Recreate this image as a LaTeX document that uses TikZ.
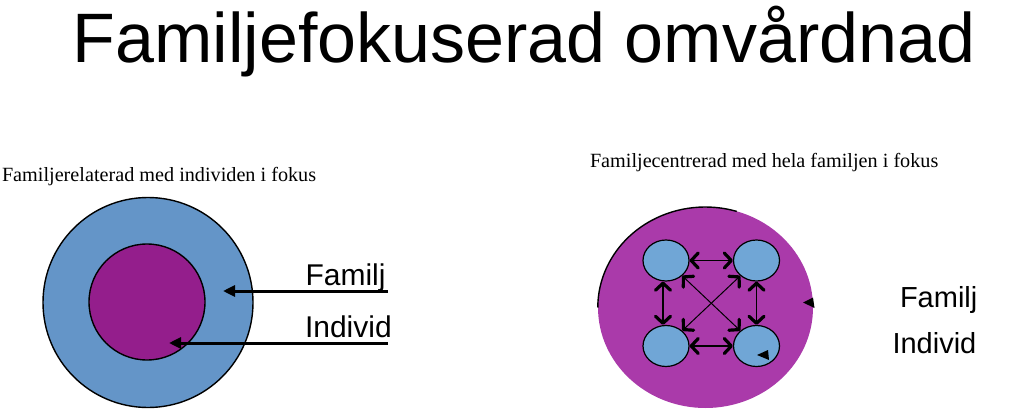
\documentclass[tikz,border=0pt]{standalone}
\usepackage{fontspec}
\setmainfont{Liberation Serif}
\newfontfamily\arialf{Liberation Sans}
\usetikzlibrary{arrows.meta,shapes.geometric}
\definecolor{outerblue}{RGB}{100,149,200}
\definecolor{innerpurple}{RGB}{148,30,140}
\definecolor{bigpurple}{RGB}{170,58,170}
\definecolor{smallblue}{RGB}{112,166,214}
\begin{document}
\begin{tikzpicture}[x=1pt,y=-1pt,
  txt/.style={inner sep=0pt,outer sep=0pt},
  titletxt/.style={txt,font=\arialf\fontsize{70}{84}\selectfont},
  subtxt/.style={txt,font=\fontsize{20.2}{24}\selectfont},
  lbl/.style={txt,font=\arialf\fontsize{30}{36}\selectfont},
  lblr/.style={txt,font=\arialf\fontsize{29}{35}\selectfont},
  ring/.style={circle,draw=black,line width=1.4pt,inner sep=0pt},
  member/.style={ellipse,draw=black,line width=1.2pt,fill=smallblue,minimum width=46pt,minimum height=41pt,inner sep=0pt},
  bigarrow/.style={line width=3pt,-{Triangle[length=12pt,width=11pt]}},
  barb/.tip={Straight Barb[length=7pt,width=15pt,line width=3.2pt,round]},
  rel/.style={line width=1.2pt,barb-barb},
  diag/.style={line width=1pt,barb-barb},
  tri/.style={fill=black}
]
\useasboundingbox (0,0) rectangle (1024,409);
\fill[white] (0,0) rectangle (1024,409);

% title
\node[titletxt,anchor=base] (title) at (524,63) {Familjefokuserad omvårdnad};

% left diagram
\node[subtxt,anchor=base west] (subL) at (2,181) {Familjerelaterad med individen i fokus};
\node[ring,fill=outerblue,minimum size=210pt] (outer) at (148,302.5) {};
\node[ring,fill=innerpurple,minimum size=116pt] (inner) at (147,302) {};
\node[lbl,anchor=base west] (famL) at (305.5,285) {Familj};
\node[lbl,anchor=base west] (indL) at (305,337) {Individ};
\coordinate (famLs) at (388,291);
\coordinate (famLt) at (223,291);
\coordinate (indLs) at (388,343);
\coordinate (indLt) at (169,343);
\draw[bigarrow] (famLs) -- (famLt);
\draw[bigarrow] (indLs) -- (indLt);

% right diagram
\node[subtxt,anchor=base west] (subR) at (590,167) {Familjecentrerad med hela familjen i fokus};
\node[ellipse,fill=bigpurple,minimum width=215pt,minimum height=201pt,inner sep=0pt] (fam) at (705.5,307.5) {};
\draw[line width=1.4pt] (fam.west) arc[start angle=180,end angle=73,x radius=107.5pt,y radius=100.5pt];
\node[member] (a) at (666,260.5) {};
\node[member] (b) at (756.5,260.5) {};
\node[member] (c) at (666,346) {};
\node[member] (d) at (756.5,346) {};
\draw[rel] (a) -- (b);
\draw[rel] (c) -- (d);
\draw[rel] ([xshift=-3pt]a.south) -- ([xshift=-3pt]c.north);
\draw[rel] (b.south) -- (d.north);
\draw[diag] (a) -- (d);
\draw[diag] (c) -- (b);
\fill[tri] (803,302.5) -- (813,297.5) -- (814.5,308) -- cycle;
\fill[tri] (757,355) -- (768,350) -- (769,360) -- cycle;
\node[lblr,anchor=base west] (famR) at (900,307) {Familj};
\node[lblr,anchor=base west] (indR) at (892.5,353) {Individ};
\end{tikzpicture}
\end{document}
